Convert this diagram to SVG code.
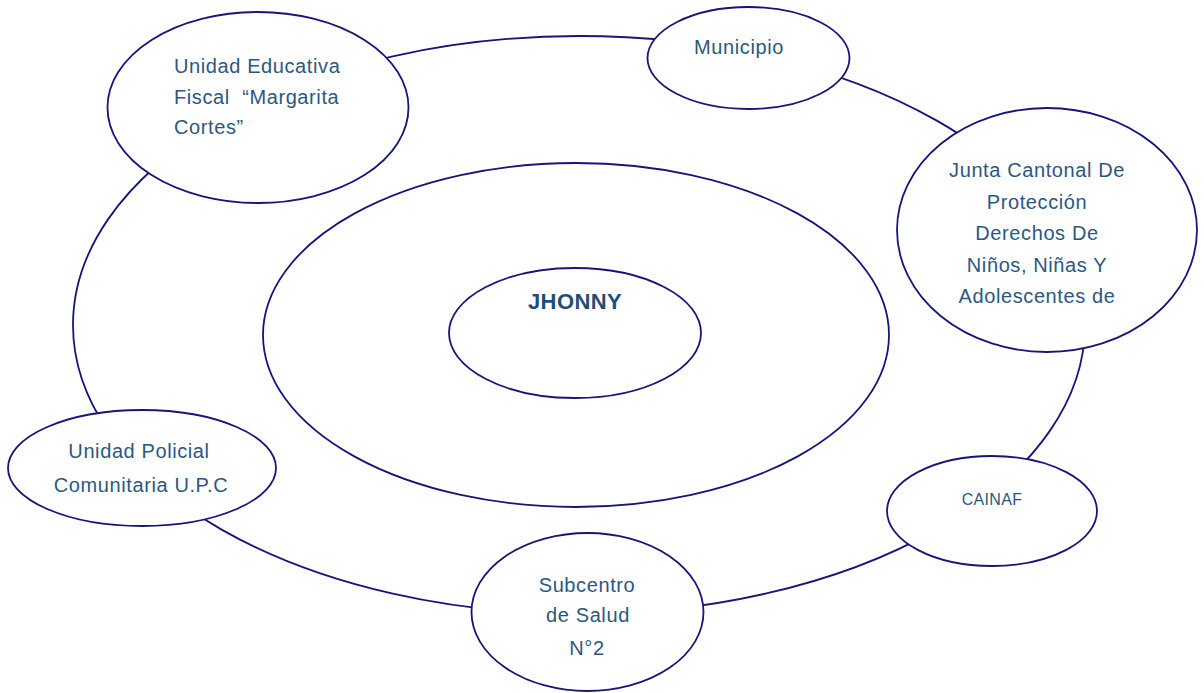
<svg xmlns="http://www.w3.org/2000/svg" width="1204" height="693" viewBox="0 0 1204 693">
<style>
.n{fill:#fff;stroke:#15157a;stroke-width:1.8}
.c{fill:none;stroke:#15157a;stroke-width:1.8}
text{font-family:"Liberation Sans",Arial,sans-serif;font-size:20px;fill:#2b5882;letter-spacing:0.6px}
.m{text-anchor:middle}
</style>
<rect width="1204" height="693" fill="#fff"/>
<g id="connectors">
<ellipse class="c" cx="579" cy="325" rx="506" ry="289"/>
</g>
<g id="node-middle"><ellipse class="n" cx="576" cy="335" rx="313" ry="172"/></g>
<g id="node-jhonny"><ellipse class="n" cx="575" cy="333" rx="126" ry="65"/>
<text class="m" x="575" y="309" style="font-weight:bold;font-size:22px;fill:#1f4e79;letter-spacing:0.4px">JHONNY</text></g>
<g id="node-unidad-educativa"><ellipse class="n" cx="258" cy="107.5" rx="150.5" ry="95.5"/>
<text x="174" y="73">Unidad Educativa</text>
<text x="174" y="104" xml:space="preserve">Fiscal  “Margarita</text>
<text x="174" y="134">Cortes”</text></g>
<g id="node-municipio"><ellipse class="n" cx="748.5" cy="58" rx="101" ry="51"/>
<text class="m" x="739" y="54">Municipio</text></g>
<g id="node-junta"><ellipse class="n" cx="1047" cy="230" rx="150" ry="122"/>
<text class="m" x="1037" y="177">Junta Cantonal De</text>
<text class="m" x="1037" y="209">Protección</text>
<text class="m" x="1037" y="240">Derechos De</text>
<text class="m" x="1037" y="272">Niños, Niñas Y</text>
<text class="m" x="1037" y="303">Adolescentes de</text></g>
<g id="node-cainaf"><ellipse class="n" cx="992" cy="511" rx="105" ry="55"/>
<text class="m" x="992" y="505" style="font-size:16px;letter-spacing:0.3px">CAINAF</text></g>
<g id="node-subcentro"><ellipse class="n" cx="587.5" cy="612" rx="116" ry="79"/>
<text class="m" x="587" y="592">Subcentro</text>
<text class="m" x="588" y="622">de Salud</text>
<text class="m" x="587" y="655">N°2</text></g>
<g id="node-upc"><ellipse class="n" cx="142" cy="468" rx="134" ry="58"/>
<text class="m" x="139" y="458">Unidad Policial</text>
<text class="m" x="141" y="492">Comunitaria U.P.C</text></g>
</svg>
